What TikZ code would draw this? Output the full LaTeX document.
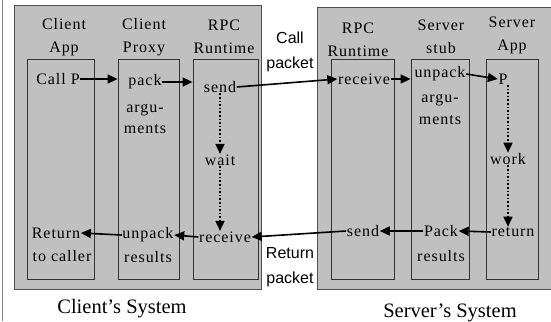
\documentclass[tikz,border=0pt]{standalone}
\usepackage{fontspec}
\setmainfont{Liberation Serif}
\newfontfamily\lblfont{Liberation Serif}[LetterSpace=6]
\newfontfamily\sansfont{Liberation Sans}
\usetikzlibrary{arrows.meta}
\definecolor{boxgray}{HTML}{C0C0C0}
\definecolor{edgegray}{HTML}{505050}
\definecolor{linegray}{HTML}{333333}
\tikzset{
  sysbox/.style={fill=boxgray, draw=edgegray, line width=1pt},
  colbox/.style={fill=boxgray, draw=linegray, line width=0.8pt},
  lbl/.style={inner sep=0pt, font=\lblfont\fontsize{16}{23}\selectfont, align=center},
  txt/.style={inner sep=0.5pt, font=\lblfont\fontsize{16}{20}\selectfont},
  pk/.style={inner sep=0pt, font=\sansfont\fontsize{16}{25}\selectfont, align=center},
  sys/.style={inner sep=0pt, font=\fontsize{20.5}{22}\selectfont},
  flow/.style={line width=1.6pt, -{Triangle[length=10pt,width=9pt]}},
  dflow/.style={line width=1.6pt, dotted, -{Triangle[length=10pt,width=9pt]}}
}
\begin{document}
\begin{tikzpicture}[x=1pt,y=-1pt]
\useasboundingbox (0,0) rectangle (551,321);
\fill[white] (0,0) rectangle (551,321);
\draw[gray, line width=1pt] (2.5,0) -- (2.5,321);
% system boxes
\draw[sysbox] (14,6) rectangle (261,289);
\draw[sysbox] (317,8) rectangle (556,289);
% column boxes
\node[colbox, minimum width=67pt, minimum height=220pt, inner sep=0pt] (cappB) at (60.5,169) {};
\node[colbox, minimum width=61pt, minimum height=220pt, inner sep=0pt] (cproxB) at (148.5,169) {};
\node[colbox, minimum width=65pt, minimum height=220pt, inner sep=0pt] (crtB) at (225.5,169) {};
\node[colbox, minimum width=63pt, minimum height=220pt, inner sep=0pt] (srtB) at (362.5,169) {};
\node[colbox, minimum width=58pt, minimum height=220pt, inner sep=0pt] (sstubB) at (440,169) {};
\node[colbox, minimum width=52pt, minimum height=220pt, inner sep=0pt] (sappB) at (512,169) {};
% column titles
\node[lbl] (cappT) at (64,37) {Client\\App};
\node[lbl] (cproxT) at (144,37) {Client\\Proxy};
\node[lbl] (crtT) at (224,37) {RPC\\Runtime};
\node[lbl] (srtT) at (358,40) {RPC\\Runtime};
\node[lbl] (sstubT) at (441,37) {Server\\stub};
\node[lbl] (sappT) at (512,35.5) {Server\\App};
% client texts
\node[txt] (callp) at (58,79) {Call P};
\node[txt] (pack) at (145,82) {pack};
\node[lbl, font=\lblfont\fontsize{16}{21}\selectfont] (packb) at (145,119) {argu-\\ments};
\node[txt] (csend) at (220,87) {send};
\node[txt] (cwait) at (220,160) {wait};
\node[txt] (crecv) at (225,237) {receive};
\node[txt] (cunpack) at (148,235) {unpack};
\node[txt] (cres) at (148,257) {results};
\node[txt] (cret) at (56,233) {Return};
\node[txt] (ccaller) at (62,256) {to caller};
% server texts
\node[txt] (srecv) at (364,79) {receive};
\node[txt] (sunpack) at (440,74) {unpack};
\node[lbl, font=\lblfont\fontsize{16}{22}\selectfont] (sargs) at (440,109) {argu-\\ments};
\node[txt] (sp) at (503,79) {P};
\node[txt] (swork) at (508,159) {work};
\node[txt] (sreturn) at (513,232) {return};
\node[txt] (spack) at (441,231) {Pack};
\node[txt] (sres) at (441,256) {results};
\node[txt] (ssend) at (363,231) {send};
% packets
\node[pk] (callpk) at (290,52) {Call\\packet};
\node[pk] (retpk) at (290,267.5) {Return\\packet};
% system labels
\node[sys] (csys) at (122,309) {Client's System};
\node[sys] (ssys) at (450,313) {Server's System};
% arrows client
\draw[flow] (callp.east) -- (callp.east -| cproxB.west);
\draw[flow] (pack.east) -- (pack.east -| crtB.west);
\draw[flow] (csend.east) -- (srecv.west);
\draw[dflow] (csend.south) -- (cwait.north);
\draw[dflow] (cwait.south) -- (cwait.south |- crecv.north);
% server
\draw[flow] (srecv.east) -- (srecv.east -| sstubB.west);
\draw[flow] (sunpack.east) -- (sp.west);
\draw[dflow] (sp.south -| swork.north) -- (swork.north);
\draw[dflow] (swork.south) -- (swork.south |- sreturn.north);
\draw[flow] (sreturn.west) -- (spack.east);
\draw[flow] (spack.west) -- (ssend.east);
\draw[flow] (ssend.west) -- (crecv.east);
\draw[flow] (crecv.west) -- (cunpack.east);
\draw[flow] (cunpack.west) -- (cret.east);
\end{tikzpicture}
\end{document}
